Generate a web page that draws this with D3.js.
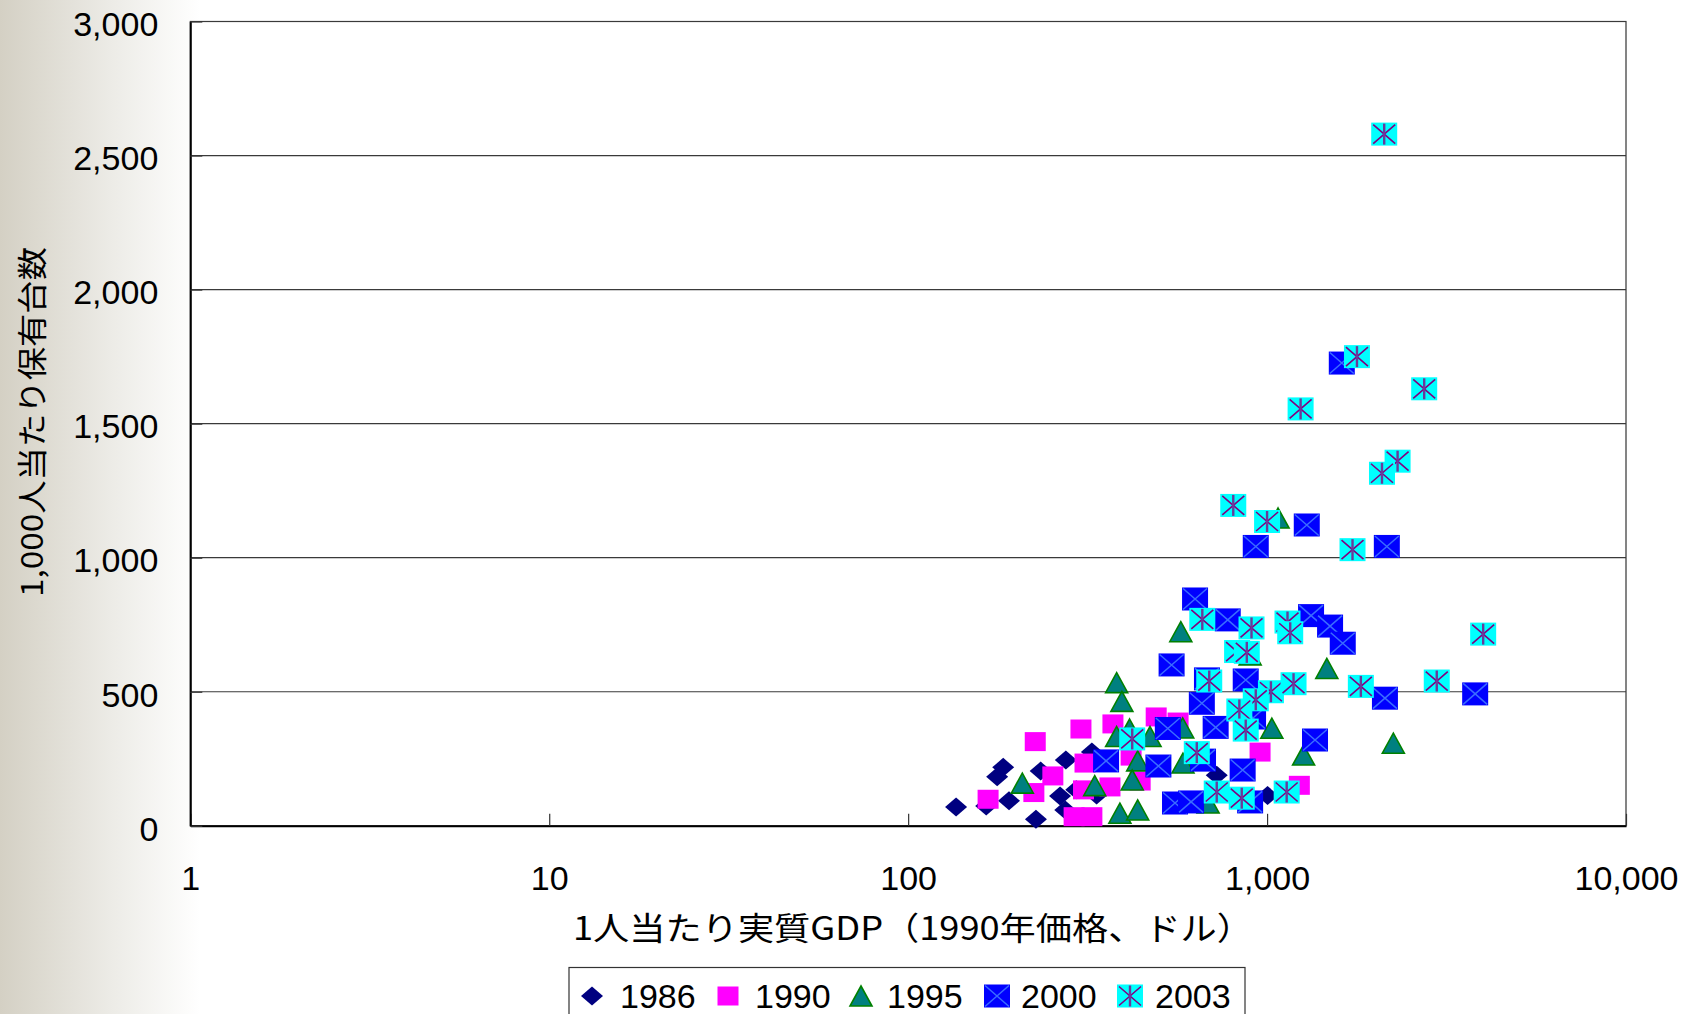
<!DOCTYPE html>
<html>
<head>
<meta charset="utf-8">
<script src="https://cdn.jsdelivr.net/npm/d3@7"></script>
<style>
  html, body { margin: 0; padding: 0; background: #fff; }
  svg { display: block; }
</style>
</head>
<body>
<svg id="chart" width="1686" height="1014"></svg>
<script>
// Vehicle ownership per 1,000 people vs. real GDP per capita (1990 prices, USD)
const seriesNames = ["1986", "1990", "1995", "2000", "2003"];

const gdp1986 = [136, 165, 177, 184, 191, 227, 234, 265, 275, 325, 335, 274, 724, 1003, 294];
const own1986 = [70, 74, 183, 218, 93, 24, 204, 111, 245, 275, 115, 59, 189, 113, 134];

const gdp1990 = [226, 303, 372, 491, 565, 167, 253, 224, 311, 308, 365, 418, 443, 290, 325, 956, 1230];
const own1990 = [314, 361, 380, 406, 387, 99, 186, 124, 234, 134, 145, 260, 167, 34, 34, 275, 151];

const gdp1995 = [1073, 575, 381, 394, 414, 381, 472, 582, 436, 583, 421, 331, 208, 389, 436, 1467, 897, 1031, 1264, 2248, 685];
const own1995 = [1148, 724, 534, 464, 361, 333, 333, 365, 242, 234, 171, 150, 159, 47, 59, 587, 637, 364, 264, 308, 85];

const gdp2000 = [1615, 930, 1290, 2156, 630, 777, 1326, 1498, 1625, 542, 680, 872, 658, 719, 914, 529, 1360, 498, 855, 554, 614, 897, 2130, 3800, 356, 663];
const own2000 = [1726, 1042, 1122, 1042, 846, 768, 784, 745, 681, 600, 548, 544, 457, 367, 402, 363, 320, 223, 208, 85, 89, 89, 476, 492, 242, 245];

const gdp2003 = [2120, 1780, 2740, 1240, 2310, 2090, 805, 1000, 1730, 660, 905, 1140, 1160, 825, 878, 4000, 690, 1025, 1185, 930, 837, 872, 1825, 2970, 637, 724, 850, 1134, 421];
const own2003 = [2580, 1750, 1630, 1555, 1360, 1315, 1195, 1135, 1030, 770, 738, 760, 720, 650, 647, 715, 540, 500, 530, 470, 432, 357, 520, 540, 273, 126, 103, 126, 324];

const xTickValues = [1, 10, 100, 1000, 10000];
const yTickValues = [0, 500, 1000, 1500, 2000, 2500, 3000];

const xTitle = "1人当たり実質GDP（1990年価格、ドル）";
const yTitle = "1,000人当たり保有台数";

const svg = d3.select("#chart");
const W = 1686, H = 1014;
const plot = { left: 190.3, right: 1626, top: 21.5, bottom: 825.8 };

// background: warm gray fading to white on the left edge
const defs = svg.append("defs");
const grad = defs.append("linearGradient").attr("id", "bgGrad")
  .attr("x1", 0).attr("x2", 1).attr("y1", 0).attr("y2", 0);
grad.append("stop").attr("offset", "0%").attr("stop-color", "#d4d0c4");
grad.append("stop").attr("offset", "55%").attr("stop-color", "#ecebe6");
grad.append("stop").attr("offset", "100%").attr("stop-color", "#ffffff");
svg.append("rect").attr("width", W).attr("height", H).attr("fill", "#fff");
svg.append("rect").attr("width", 200).attr("height", H).attr("fill", "url(#bgGrad)");

const x = d3.scaleLog().domain([1, 10000]).range([plot.left, plot.right]);
const y = d3.scaleLinear().domain([0, 3000]).range([plot.bottom, plot.top]);

// plot area
svg.append("rect")
  .attr("x", plot.left).attr("y", plot.top)
  .attr("width", plot.right - plot.left).attr("height", plot.bottom - plot.top)
  .attr("fill", "#fff").attr("stroke", "#333").attr("stroke-width", 1.2);

// horizontal gridlines
svg.append("g").selectAll("line")
  .data(yTickValues.filter(v => v > 0))
  .join("line")
  .attr("x1", plot.left).attr("x2", plot.right)
  .attr("y1", d => y(d)).attr("y2", d => y(d))
  .attr("stroke", "#3a3a3a").attr("stroke-width", 1.2);

const numFont = "'Liberation Sans', Arial, sans-serif";
const jpFont = "'Noto Sans CJK JP', 'Noto Sans', sans-serif";

// x axis (log)
const xAxis = svg.append("g")
  .attr("transform", `translate(0,${plot.bottom})`)
  .call(d3.axisBottom(x).tickValues(xTickValues).tickFormat(d3.format(","))
    .tickSizeInner(-12).tickSizeOuter(0).tickPadding(40.5));
xAxis.select(".domain").attr("stroke", "#000").attr("stroke-width", 2);
xAxis.selectAll(".tick line").attr("stroke", "#333").attr("stroke-width", 1.2);
xAxis.selectAll("text").attr("font-family", numFont).attr("font-size", 34).attr("fill", "#000");

// y axis
const yAxis = svg.append("g")
  .attr("transform", `translate(${plot.left},0)`)
  .call(d3.axisLeft(y).tickValues(yTickValues).tickFormat(d3.format(","))
    .tickSizeInner(-12).tickSizeOuter(0).tickPadding(32));
yAxis.select(".domain").attr("stroke", "#000").attr("stroke-width", 2);
yAxis.selectAll(".tick line").attr("stroke", "#333").attr("stroke-width", 1.2);
yAxis.selectAll("text").attr("font-family", numFont).attr("font-size", 34).attr("fill", "#000")
  .attr("dy", "0.42em");

// axis titles
svg.append("text")
  .attr("x", 913).attr("y", 928).attr("dy", "0.36em")
  .attr("text-anchor", "middle")
  .attr("font-family", jpFont).attr("font-size", 32).attr("fill", "#000")
  .attr("textLength", 680).attr("lengthAdjust", "spacingAndGlyphs")
  .text(xTitle);

svg.append("text")
  .attr("transform", "translate(32,422) rotate(-90)")
  .attr("dy", "0.36em")
  .attr("text-anchor", "middle")
  .attr("font-family", jpFont).attr("font-size", 30).attr("fill", "#000")
  .attr("textLength", 350).attr("lengthAdjust", "spacingAndGlyphs")
  .text(yTitle);

// marker painters, each drawn centred at (0,0)
const markers = {
  "1986": g => g.append("path").attr("d", "M0,-9.5L11,0L0,9.5L-11,0Z").attr("fill", "#000080"),
  "1990": g => g.append("rect").attr("x", -10.5).attr("y", -9.5).attr("width", 21).attr("height", 19).attr("fill", "#ff00ff"),
  "1995": g => g.append("path").attr("d", "M0,-10L11,10L-11,10Z")
      .attr("fill", "#008080").attr("stroke", "#008000").attr("stroke-width", 1.6).attr("stroke-linejoin", "miter"),
  "2000": g => {
    g.append("rect").attr("x", -13).attr("y", -11.5).attr("width", 26).attr("height", 23).attr("fill", "#0000ff");
    g.append("path").attr("d", "M-12,-10.5L12,10.5M-12,10.5L12,-10.5")
      .attr("stroke", "#3a6cff").attr("stroke-width", 1.5).attr("fill", "none");
  },
  "2003": g => {
    g.append("rect").attr("x", -13).attr("y", -11.5).attr("width", 26).attr("height", 23).attr("fill", "#00ffff");
    g.append("path").attr("d", "M-11,-9.5L11,9.5M-11,9.5L11,-9.5")
      .attr("stroke", "#800080").attr("stroke-width", 1.6).attr("fill", "none");
    g.append("path").attr("d", "M0,-10.5L0,10.5")
      .attr("stroke", "#6a3a9a").attr("stroke-width", 2.4).attr("fill", "none");
  }
};

const seriesData = [
  { name: "1986", gdp: gdp1986, own: own1986 },
  { name: "1990", gdp: gdp1990, own: own1990 },
  { name: "1995", gdp: gdp1995, own: own1995 },
  { name: "2000", gdp: gdp2000, own: own2000 },
  { name: "2003", gdp: gdp2003, own: own2003 }
];

const pointsLayer = svg.append("g");
seriesData.forEach(s => {
  const pts = s.gdp.map((g, i) => ({ gdp: g, own: s.own[i] }));
  pointsLayer.append("g").attr("class", "series-" + s.name)
    .selectAll("g").data(pts).join("g")
    .attr("transform", d => `translate(${x(d.gdp)},${y(d.own)})`)
    .each(function () { markers[s.name](d3.select(this)); });
});

// legend
const legend = svg.append("g");
legend.append("rect")
  .attr("x", 569).attr("y", 967.5).attr("width", 676).attr("height", 60)
  .attr("fill", "#fff").attr("stroke", "#333").attr("stroke-width", 1.2);
const legendMarkerX = [592, 728, 861, 997, 1130];
const legendTextX = [620, 755, 887, 1021, 1155];
seriesNames.forEach((n, i) => {
  const g = legend.append("g").attr("transform", `translate(${legendMarkerX[i]},996)`);
  markers[n](g);
  legend.append("text")
    .attr("x", legendTextX[i]).attr("y", 996).attr("dy", "0.36em")
    .attr("font-family", numFont).attr("font-size", 34).attr("fill", "#000")
    .text(n);
});
</script>
</body>
</html>
